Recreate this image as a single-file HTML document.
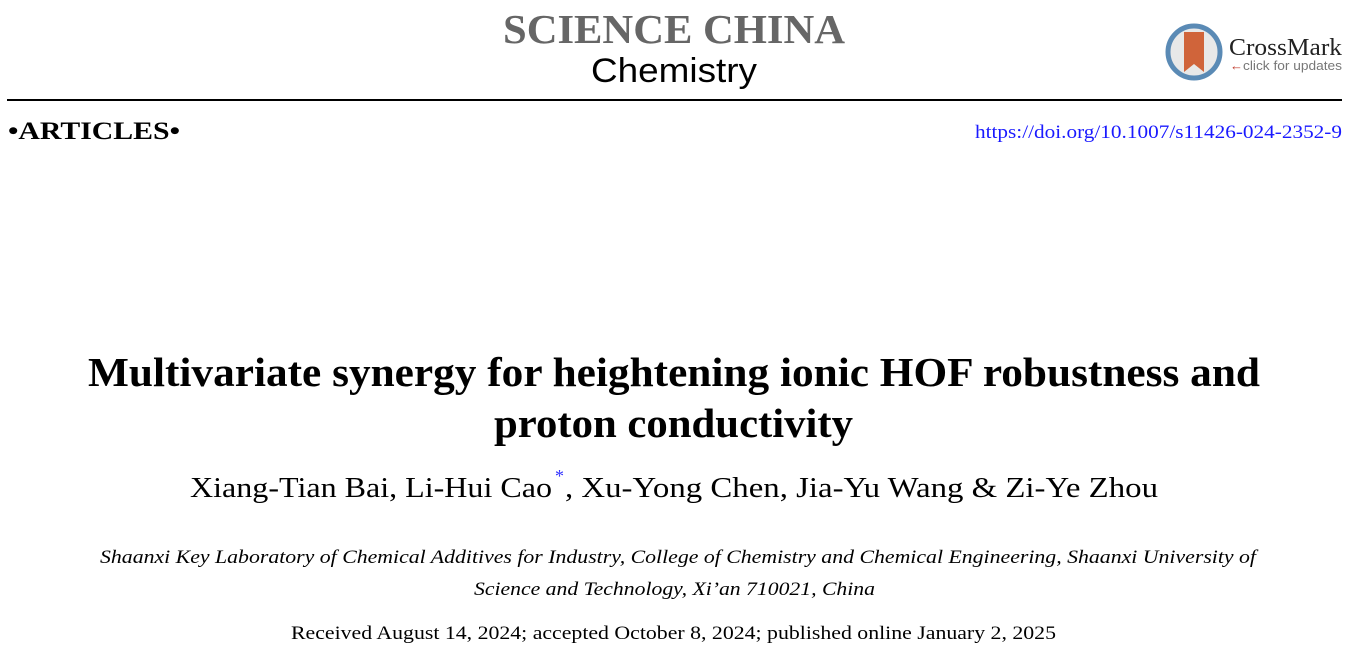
<!DOCTYPE html>
<html><head><meta charset="utf-8"><style>html,body{margin:0;padding:0;background:#fff;}svg{display:block}</style></head>
<body>
<svg width="1362" height="661" viewBox="0 0 1362 661" xmlns="http://www.w3.org/2000/svg">
<rect width="1362" height="661" fill="#fff"/>
<text x="503" y="43" font-family="Liberation Serif, serif" font-weight="bold" font-size="41" fill="#666" textLength="342" lengthAdjust="spacingAndGlyphs">SCIENCE CHINA</text>
<text x="591" y="82" font-family="Liberation Sans, sans-serif" font-size="34" fill="#000" textLength="166" lengthAdjust="spacingAndGlyphs">Chemistry</text>
<rect x="7" y="99" width="1335" height="2" fill="#000"/>
<text x="8" y="139" font-family="Liberation Serif, serif" font-weight="bold" font-size="25" fill="#000" textLength="172" lengthAdjust="spacingAndGlyphs">•ARTICLES•</text>
<text x="975" y="138" font-family="Liberation Serif, serif" font-size="19" fill="#1a1aff" textLength="367" lengthAdjust="spacingAndGlyphs">https://doi.org/10.1007/s11426-024-2352-9</text>
<!-- CrossMark -->
<circle cx="1194" cy="52" r="26" fill="#e8e8e8" stroke="#5a8ab5" stroke-width="5"/>
<path d="M1184 32 h20 v40 l-10 -8 l-10 8 z" fill="#d0643a"/>
<text x="1229" y="55" font-family="Liberation Serif, serif" font-size="24" fill="#222" textLength="113" lengthAdjust="spacingAndGlyphs">CrossMark</text>
<text x="1230" y="70" font-family="Liberation Sans, sans-serif" font-size="13" fill="#c0392b">←</text>
<text x="1243" y="70" font-family="Liberation Sans, sans-serif" font-size="13" fill="#777" textLength="99" lengthAdjust="spacingAndGlyphs">click for updates</text>
<text x="88" y="386" font-family="Liberation Serif, serif" font-weight="bold" font-size="41" fill="#000" textLength="1172" lengthAdjust="spacingAndGlyphs">Multivariate synergy for heightening ionic HOF robustness and</text>
<text x="494" y="437" font-family="Liberation Serif, serif" font-weight="bold" font-size="41" fill="#000" textLength="359" lengthAdjust="spacingAndGlyphs">proton conductivity</text>
<text x="190" y="497" font-family="Liberation Serif, serif" font-size="28" fill="#000" textLength="362" lengthAdjust="spacingAndGlyphs">Xiang-Tian Bai, Li-Hui Cao</text>
<text x="555" y="482" font-family="Liberation Serif, serif" font-size="18" fill="#3333ff">*</text>
<text x="565" y="497" font-family="Liberation Serif, serif" font-size="28" fill="#000" textLength="593" lengthAdjust="spacingAndGlyphs">, Xu-Yong Chen, Jia-Yu Wang &amp; Zi-Ye Zhou</text>
<text x="100" y="563" font-family="Liberation Serif, serif" font-style="italic" font-size="19" fill="#000" textLength="1156" lengthAdjust="spacingAndGlyphs">Shaanxi Key Laboratory of Chemical Additives for Industry, College of Chemistry and Chemical Engineering, Shaanxi University of</text>
<text x="474" y="595" font-family="Liberation Serif, serif" font-style="italic" font-size="19" fill="#000" textLength="401" lengthAdjust="spacingAndGlyphs">Science and Technology, Xi’an 710021, China</text>
<text x="291" y="639" font-family="Liberation Serif, serif" font-size="19" fill="#000" textLength="765" lengthAdjust="spacingAndGlyphs">Received August 14, 2024; accepted October 8, 2024; published online January 2, 2025</text>
</svg>
</body></html>
